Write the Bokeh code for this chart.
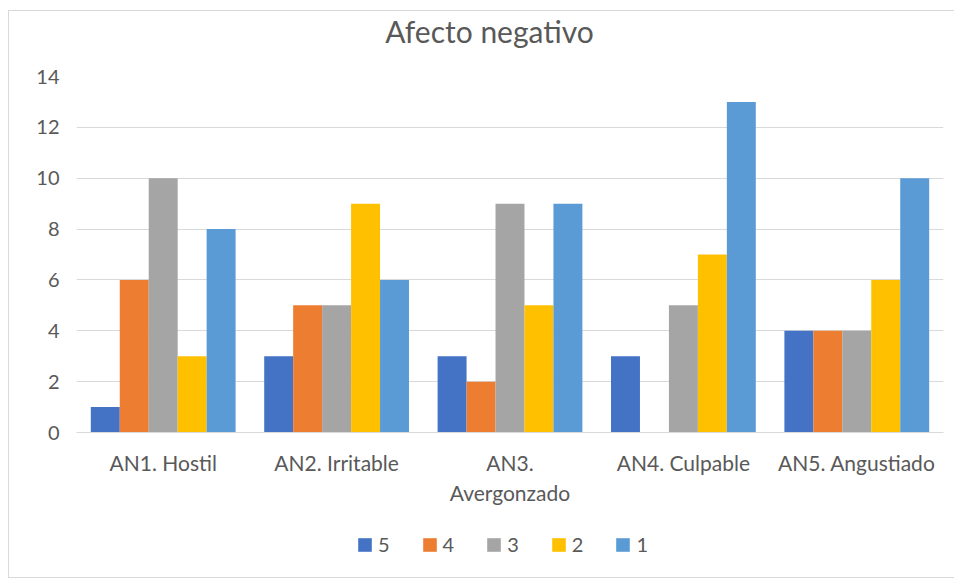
from bokeh.plotting import figure
from bokeh.models import (ColumnDataSource, Legend, LegendItem, Label,
                          FixedTicker, LinearAxis, Range1d)
from bokeh.layouts import column
from bokeh.transform import dodge
from bokeh.embed import file_html
from bokeh.resources import INLINE

# Categories and series (answer levels 5..1)
categories = ["AN1. Hostil", "AN2. Irritable", "AN3. Avergonzado", "AN4. Culpable", "AN5. Angustiado"]
label_line1 = ["AN1. Hostil", "AN2. Irritable", "AN3.", "AN4. Culpable", "AN5. Angustiado"]
label_line2 = ["", "", "Avergonzado", "", ""]
series_names = ["5", "4", "3", "2", "1"]
values_5 = [1, 3, 3, 3, 4]
values_4 = [6, 5, 2, 0, 4]
values_3 = [10, 5, 9, 5, 4]
values_2 = [3, 9, 5, 7, 6]
values_1 = [8, 6, 9, 13, 10]
y_ticks = [0, 2, 4, 6, 8, 10, 12, 14]
title_text = "Afecto negativo"

colors = ["#4472C4", "#ED7D31", "#A5A5A5", "#FFC000", "#5B9BD5"]
FONT = "Lato"
TEXT_COLOR = "#595959"
GRID = "#D9D9D9"
W = 945

# category slots: each category occupies one unit on the x axis
centers = [i + 0.5 for i in range(len(categories))]

source = ColumnDataSource(data=dict(
    cat=categories, pos=centers,
    s5=values_5, s4=values_4, s3=values_3, s2=values_2, s1=values_1,
))
cols = ["s5", "s4", "s3", "s2", "s1"]
bar_w = 0.167
offsets = [-2 * bar_w, -bar_w, 0, bar_w, 2 * bar_w]


def strip(height, y_range):
    """A bare figure used for the title and legend rows."""
    f = figure(width=W, height=height, output_backend="svg", toolbar_location=None,
               x_range=Range1d(0, len(categories)), y_range=y_range,
               x_axis_location=None, y_axis_location=None,
               min_border=0, min_border_left=0, min_border_right=0,
               min_border_top=0, min_border_bottom=0)
    f.grid.visible = False
    f.outline_line_color = None
    return f


# ---- title row (its frame lines up with the chart's frame)
head = strip(53, Range1d(0, 1))
head.add_layout(Label(x=413, y=34, x_units="screen", y_units="screen",
                      text=title_text, text_font=FONT, text_font_size="30px",
                      text_color=TEXT_COLOR, text_align="center",
                      text_baseline="middle"))

# ---- main chart
p = figure(
    x_range=Range1d(0, len(categories)),
    y_range=(0, 14),
    width=W, height=463,
    output_backend="svg", toolbar_location=None,
    x_axis_location=None,
    min_border_left=67, min_border_right=11, min_border_top=12, min_border_bottom=95,
)
p.outline_line_color = None
p.background_fill_color = "white"
p.border_fill_color = "white"

# bars, dodged within each category
for col, off, color in zip(cols, offsets, colors):
    p.vbar(x=dodge("pos", off), top=col, width=bar_w,
           source=source, fill_color=color, line_color=None)

# y axis
p.yaxis.ticker = FixedTicker(ticks=y_ticks)
p.yaxis.axis_line_color = None
p.yaxis.major_tick_line_color = None
p.yaxis.minor_tick_line_color = None
p.yaxis.major_label_text_font = FONT
p.yaxis.major_label_text_font_size = "20px"
p.yaxis.major_label_text_color = TEXT_COLOR
p.yaxis.major_label_standoff = 11


# category labels: one axis per text line
def label_axis(lines, standoff, line_color):
    ticks = [c for c, t in zip(centers, lines) if t]
    return LinearAxis(
        ticker=FixedTicker(ticks=ticks),
        major_label_overrides={c: t for c, t in zip(centers, lines) if t},
        axis_line_color=line_color, major_tick_line_color=None,
        minor_tick_line_color=None, major_label_text_font=FONT,
        major_label_text_font_size="21px", major_label_text_color=TEXT_COLOR,
        major_label_standoff=standoff,
    )


p.add_layout(label_axis(label_line1, 11, GRID), "below")
p.add_layout(label_axis(label_line2, -4, None), "below")

p.xgrid.grid_line_color = None
p.ygrid.grid_line_color = GRID
p.ygrid.grid_line_width = 1

# ---- legend row (series drawn off-range so only the legend keys show)
leg = strip(50, Range1d(100, 101))
items = []
for name, col, off, color in zip(series_names, cols, offsets, colors):
    r = leg.vbar(x=dodge("pos", off), top=col, width=bar_w, source=source,
                 fill_color=color, line_color=None)
    items.append(LegendItem(label=name, renderers=[r]))
legend = Legend(items=items, orientation="horizontal", location=(280, 21),
                padding=0, margin=0, spacing=31, label_standoff=5, label_width=10,
                glyph_width=17, glyph_height=17, label_height=17,
                label_text_font=FONT, label_text_font_size="20px",
                label_text_color=TEXT_COLOR, border_line_color=None,
                background_fill_alpha=0)
leg.add_layout(legend, "center")

layout = column(head, p, leg, spacing=0, margin=(10, 0, 0, 8),
                styles={"border": "1px solid #D9D9D9", "background": "white"})

open("out.html", "w").write(file_html(layout, INLINE))
